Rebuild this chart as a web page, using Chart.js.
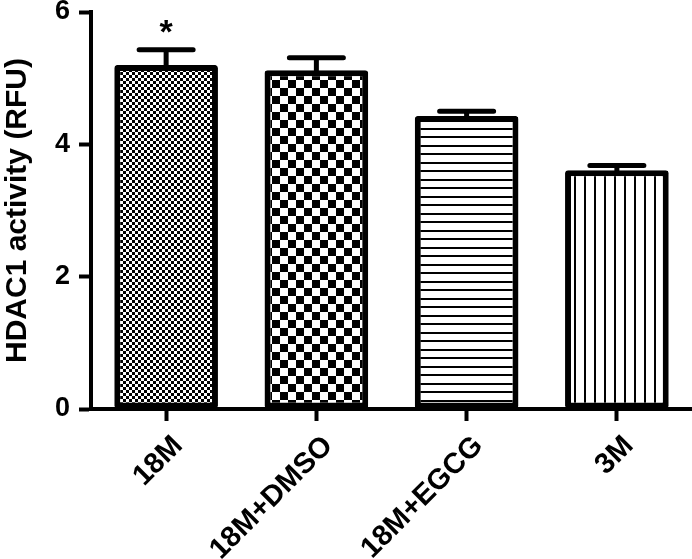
<!DOCTYPE html>
<html lang="en">
<head>
<meta charset="UTF-8">
<title>HDAC1 activity</title>
<script src="https://cdn.jsdelivr.net/npm/chart.js"></script>
<style>
  body { margin: 0; background: #fff; }
</style>
</head>
<body>
<canvas id="graficoHdac" width="692" height="559"></canvas>
<script>
    const grupos = ['18M', '18M+DMSO', '18M+EGCG', '3M']
    const atividade = [5.20, 5.12, 4.43, 3.61]
    const erro = [0.23, 0.19, 0.07, 0.07]
    const marcas = ['*', '', '', '']
    const ticksY = [0, 2, 4, 6]

    const fonte = "'Liberation Sans', Arial, sans-serif"

    // padroes de preenchimento das barras
    function novoTile(w, h) {
        const c = document.createElement('canvas')
        c.width = w
        c.height = h
        const ctx = c.getContext('2d')
        ctx.fillStyle = '#fff'
        ctx.fillRect(0, 0, w, h)
        ctx.fillStyle = '#000'
        return { c, ctx }
    }

    function xadrez(tam) {
        const t = novoTile(tam * 2, tam * 2)
        t.ctx.fillRect(0, 0, tam, tam)
        t.ctx.fillRect(tam, tam, tam, tam)
        return t
    }

    function listrasH() {
        const t = novoTile(4, 17)
        t.ctx.fillRect(0, 0, 4, 2)
        t.ctx.fillRect(0, 9, 4, 2)
        return t
    }

    function listrasV() {
        const t = novoTile(10, 4)
        t.ctx.fillRect(4, 0, 2, 4)
        return t
    }

    const canvas = document.getElementById('graficoHdac')
    const ctxPrincipal = canvas.getContext('2d')
    const padroes = [xadrez(3), xadrez(8), listrasH(), listrasV()].map(function (t) {
        return ctxPrincipal.createPattern(t.c, 'repeat')
    })

    const barrasDeErro = {
        id: 'barrasDeErro',
        afterDatasetsDraw(chart) {
            const ctx = chart.ctx
            const y = chart.scales.y
            const meta = chart.getDatasetMeta(0)
            ctx.save()
            ctx.strokeStyle = '#000'
            ctx.lineWidth = 5
            ctx.lineCap = 'round'
            meta.data.forEach(function (barra, i) {
                const topo = y.getPixelForValue(atividade[i] + erro[i])
                ctx.beginPath()
                ctx.moveTo(barra.x, barra.y + 2)
                ctx.lineTo(barra.x, topo)
                ctx.moveTo(barra.x - 27, topo)
                ctx.lineTo(barra.x + 27, topo)
                ctx.stroke()
                if (marcas[i]) {
                    ctx.fillStyle = '#000'
                    ctx.font = 'bold 34px ' + fonte
                    ctx.textAlign = 'center'
                    ctx.textBaseline = 'middle'
                    ctx.fillText(marcas[i], barra.x, topo - 16)
                }
            })
            ctx.restore()
        }
    }

    new Chart(canvas, {
        type: 'bar',
        data: {
            labels: grupos,
            datasets: [
                {
                    data: atividade,
                    backgroundColor: padroes,
                    borderColor: '#000',
                    borderWidth: 6,
                    borderRadius: 3,
                    borderSkipped: false,
                    barPercentage: 0.69,
                    categoryPercentage: 1
                }
            ]
        },
        options: {
            responsive: false,
            animation: false,
            layout: {
                autoPadding: false,
                padding: { top: 12, right: 0, left: 0, bottom: 0 }
            },
            plugins: {
                legend: { display: false },
                tooltip: { enabled: false }
            },
            scales: {
                y: {
                    min: 0,
                    max: 6,
                    afterBuildTicks: function (scale) {
                        scale.ticks = ticksY.map(function (v) { return { value: v } })
                    },
                    afterFit: function (scale) {
                        scale.width = 91
                        scale.paddingTop = 0
                        scale.paddingBottom = 0
                    },
                    border: { color: '#000', width: 4 },
                    grid: {
                        drawOnChartArea: false,
                        color: '#000',
                        tickLength: 12,
                        tickWidth: 4
                    },
                    ticks: {
                        color: '#000',
                        padding: 9,
                        font: { family: fonte, size: 27, weight: 'bold' }
                    },
                    title: {
                        display: true,
                        text: 'HDAC1 activity (RFU)',
                        color: '#000',
                        padding: { top: 0, bottom: 0 },
                        font: { family: fonte, size: 30, weight: 'bold' }
                    }
                },
                x: {
                    afterFit: function (scale) {
                        scale.height = 150
                        scale.paddingLeft = 0
                        scale.paddingRight = 0
                    },
                    border: { color: '#000', width: 4 },
                    grid: {
                        offset: false,
                        drawOnChartArea: false,
                        color: '#000',
                        tickLength: 12,
                        tickWidth: 4
                    },
                    ticks: {
                        color: '#000',
                        autoSkip: false,
                        minRotation: 45,
                        maxRotation: 45,
                        padding: 8,
                        labelOffset: 12,
                        font: { family: fonte, size: 29, weight: 'bold' }
                    }
                }
            }
        },
        plugins: [barrasDeErro]
    });
</script>
</body>
</html>
